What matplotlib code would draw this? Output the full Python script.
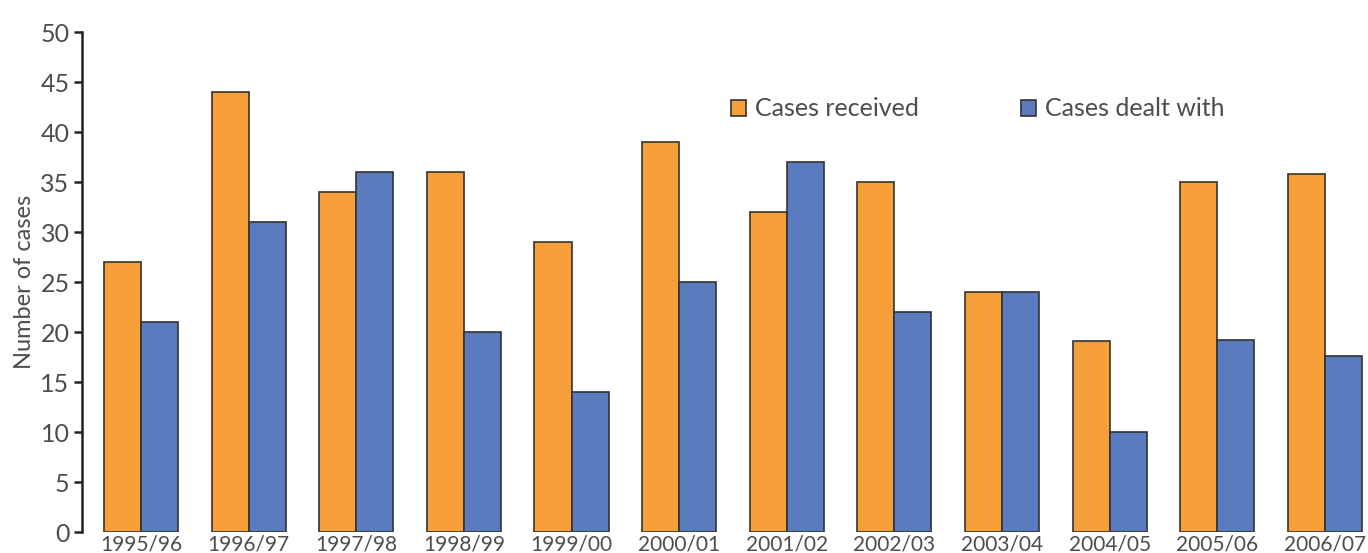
import matplotlib.pyplot as plt
import numpy as np

# data
years = ["1995/96", "1996/97", "1997/98", "1998/99", "1999/00", "2000/01",
         "2001/02", "2002/03", "2003/04", "2004/05", "2005/06", "2006/07"]
received = [27, 44, 34, 36, 29, 39, 32, 35, 24, 19.1, 35, 35.8]
dealt_with = [21, 31, 36, 20, 14, 25, 37, 22, 24, 10, 19.2, 17.6]

orange = "#F7A03A"
blue = "#5A7BBE"
edge = "#333333"
textcol = "#4d4d4d"

plt.rcParams['font.family'] = ['Lato', 'DejaVu Sans']

fig = plt.figure(figsize=(13.68, 5.53), dpi=100)
ax = fig.add_axes([82 / 1368, 21 / 553, 1 - 82 / 1368, 500 / 553])

x = np.arange(len(years))
w = 0.344
ax.bar(x - w / 2, received, w, color=orange, edgecolor=edge, linewidth=1.2,
       label="Cases received")
ax.bar(x + w / 2, dealt_with, w, color=blue, edgecolor=edge, linewidth=1.2,
       label="Cases dealt with")

ax.set_xlim(-0.548, 11.4)
ax.set_ylim(0, 50)
ax.set_yticks(range(0, 51, 5))
ax.set_xticks(x)
ax.set_xticklabels(years)

for s in ["top", "right", "bottom"]:
    ax.spines[s].set_visible(False)
ax.spines["left"].set_linewidth(1.8)
ax.spines["left"].set_color("#222222")

ax.tick_params(axis="y", length=6, width=1.8, color="#222222", pad=3,
               labelsize=18, labelcolor=textcol)
ax.tick_params(axis="x", length=0, pad=2, labelsize=15, labelcolor=textcol)

fig.text(25 / 1368, 1 - 282 / 553, "Number of cases", rotation=90,
         ha="center", va="center", fontsize=17, color=textcol)

ax.legend(ncol=2, frameon=False, loc="center left",
          bbox_to_anchor=(0.487, 0.846), handlelength=0.6,
          handleheight=0.6, handletextpad=0.35, columnspacing=4.1,
          prop={"size": 18}, labelcolor=textcol)

plt.savefig("out.png", dpi=100)
